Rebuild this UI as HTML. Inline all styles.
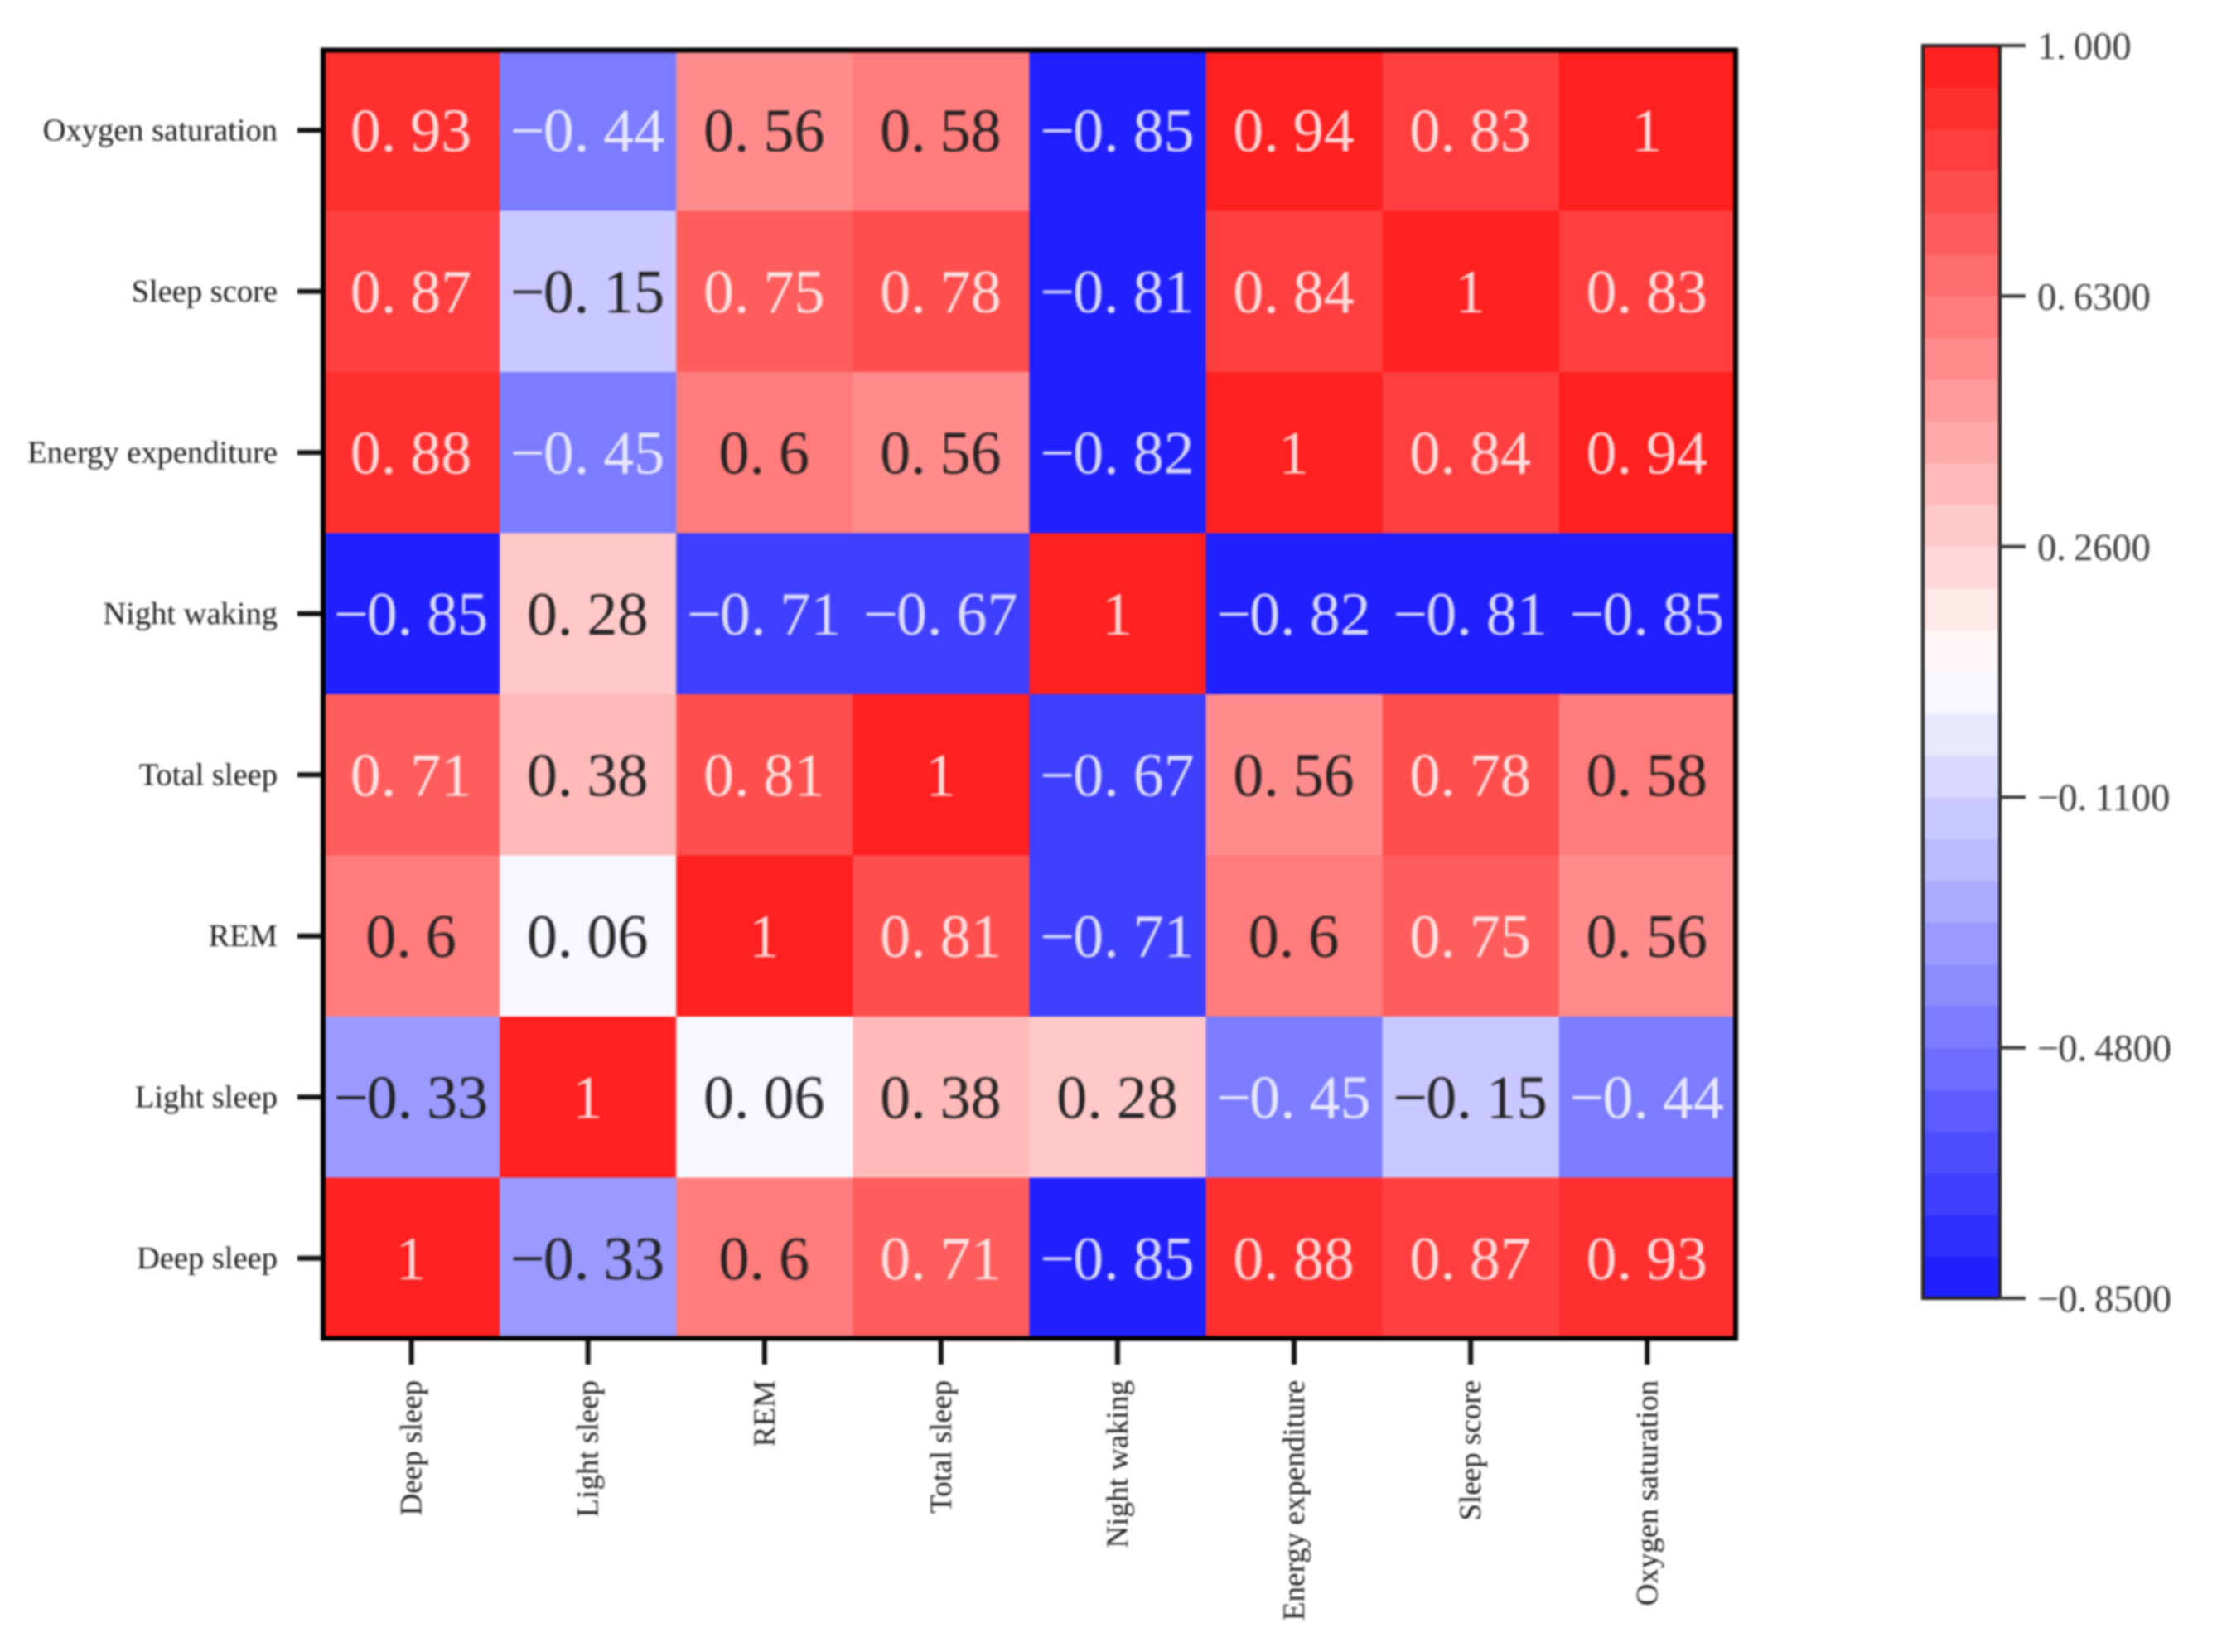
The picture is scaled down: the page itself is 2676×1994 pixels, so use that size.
<!DOCTYPE html>
<html lang="en">
<head>
<meta charset="utf-8">
<title>Sleep correlation heatmap</title>
<style>
html,body{margin:0;padding:0;background:#fff;width:2676px;height:1994px;overflow:hidden}
svg{display:block;filter:blur(1.2px)}
text{font-family:"Liberation Serif","Noto Serif CJK SC",serif}
</style>
</head>
<body>
<svg id="chart" xmlns="http://www.w3.org/2000/svg" width="2676" height="1994" viewBox="0 0 2676 1994">
<rect width="2676" height="1994" fill="#fff"/>
<g id="cells"></g>
<g id="annots"></g>
<rect x="390" y="60.5" width="1705" height="1555" fill="none" stroke="#000" stroke-width="6"/>
<g id="xaxis"></g>
<g id="yaxis"></g>
<g id="cbar"></g>
</svg>
<script>
const xCategories = ["Deep sleep","Light sleep","REM","Total sleep","Night waking","Energy expenditure","Sleep score","Oxygen saturation"];
const yCategories = ["Oxygen saturation","Sleep score","Energy expenditure","Night waking","Total sleep","REM","Light sleep","Deep sleep"];
const rowOxygen = [0.93,-0.44,0.56,0.58,-0.85,0.94,0.83,1];
const rowSleepScore = [0.87,-0.15,0.75,0.78,-0.81,0.84,1,0.83];
const rowEnergy = [0.88,-0.45,0.6,0.56,-0.82,1,0.84,0.94];
const rowNightWaking = [-0.85,0.28,-0.71,-0.67,1,-0.82,-0.81,-0.85];
const rowTotalSleep = [0.71,0.38,0.81,1,-0.67,0.56,0.78,0.58];
const rowREM = [0.6,0.06,1,0.81,-0.71,0.6,0.75,0.56];
const rowLightSleep = [-0.33,1,0.06,0.38,0.28,-0.45,-0.15,-0.44];
const rowDeepSleep = [1,-0.33,0.6,0.71,-0.85,0.88,0.87,0.93];
const matrix = [rowOxygen,rowSleepScore,rowEnergy,rowNightWaking,rowTotalSleep,rowREM,rowLightSleep,rowDeepSleep];
const colorbarTicks = [1,0.63,0.26,-0.11,-0.48,-0.85];
const colorbarTickLabels = ["1.000","0.6300","0.2600","-0.1100","-0.4800","-0.8500"];
const vMin = -0.85;
const vMax = 1;
const colorLevels = 30;

const NS = "http://www.w3.org/2000/svg";
const plot = {left:390, top:60, cellW:213.1, cellH:194.5};
const bar = {left:2320, right:2413, top:55, bottom:1567};

function xScale(i){ return plot.left + i*plot.cellW; }
function yScale(i){ return plot.top + i*plot.cellH; }
function barY(v){ return bar.bottom - (v-vMin)/(vMax-vMin)*(bar.bottom-bar.top); }
function bandIndex(v){ return Math.min(colorLevels-1, Math.max(0, Math.floor((v-vMin)/(vMax-vMin)*colorLevels))); }
function bandRGB(i){
  const t = i/(colorLevels-1);
  const r = t<0.5 ? 2*t : 1;
  const g = t<0.5 ? 2*t : 2*(1-t);
  const b = t<0.5 ? 1 : 2*(1-t);
  const a = 0.875;
  return [r,g,b].map(c => Math.round((c*a+1-a)*255));
}
function luminance(rgb){
  const l = rgb.map(c => { c/=255; return c<=0.03928 ? c/12.92 : Math.pow((c+0.055)/1.055,2.4); });
  return 0.2126*l[0]+0.7152*l[1]+0.0722*l[2];
}
function css(rgb){ return "rgb("+rgb.join(",")+")"; }
function make(tag, parent, attrs){
  const el = document.createElementNS(NS, tag);
  for (const k in attrs) el.setAttribute(k, attrs[k]);
  parent.appendChild(el);
  return el;
}
function glyphText(raw){ return raw.replace("-", "\u2212"); }
function spacing(str, afterDot, minusGap){
  const out = [];
  for (let i=0;i<str.length;i++){
    let d = 0;
    if (i>0 && str[i-1]===".") d = afterDot;
    if (i>0 && str[i-1]==="\u2212") d = minusGap;
    out.push(d);
  }
  return out.join(" ");
}

const cellsG = document.getElementById("cells");
const annotsG = document.getElementById("annots");
matrix.forEach((row, r) => {
  row.forEach((v, c) => {
    const rgb = bandRGB(bandIndex(v));
    const rect = make("rect", cellsG, {x:xScale(c), y:yScale(r), width:plot.cellW+0.5, height:plot.cellH+0.5, fill:css(rgb)});
    
    
    const label = glyphText(String(v));
    const dark = luminance(rgb)>0.34;
    const txt = make("text", annotsG, {x:xScale(c)+plot.cellW/2-0.5, y:yScale(r)+plot.cellH/2+25, "text-anchor":"middle", "font-size":74, fill:dark ? "#1c1c1c" : "#fff", "fill-opacity":dark ? 0.95 : 0.82, dx:spacing(label,17,-2)});
    txt.textContent = label;
    
    
  });
});

const xG = document.getElementById("xaxis");
xCategories.forEach((name, i) => {
  const cx = xScale(i)+plot.cellW/2;
  const tick = make("line", xG, {x1:cx, x2:cx, y1:1618, y2:1647, stroke:"#111", "stroke-width":6});
  
  
  const t = make("text", xG, {transform:"translate("+(cx+12)+",1666) rotate(-90)", "text-anchor":"end", "font-size":37, fill:"#1c1c1c"});
  t.textContent = name;
  
  
});

const yG = document.getElementById("yaxis");
yCategories.forEach((name, i) => {
  const cy = yScale(i)+plot.cellH/2;
  const tick = make("line", yG, {x1:359, x2:388, y1:cy, y2:cy, stroke:"#111", "stroke-width":6});
  
  
  const t = make("text", yG, {x:335, y:cy+12, "text-anchor":"end", "font-size":38.5, fill:"#1c1c1c"});
  t.textContent = name;
  
  
});

const cbarG = document.getElementById("cbar");
for (let i=0;i<colorLevels;i++){
  const h = (bar.bottom-bar.top)/colorLevels;
  const band = make("rect", cbarG, {x:bar.left, y:bar.bottom-(i+1)*h, width:bar.right-bar.left, height:h+0.5, fill:css(bandRGB(i))});
  
  
}
const barFrame = make("rect", cbarG, {x:bar.left+1, y:bar.top, width:bar.right-bar.left, height:bar.bottom-bar.top, fill:"none", stroke:"#222", "stroke-width":4});


colorbarTicks.forEach((v, i) => {
  const y = barY(v);
  const tick = make("line", cbarG, {x1:bar.right, x2:2445, y1:y, y2:y, stroke:"#333", "stroke-width":4});
  
  
  const label = glyphText(colorbarTickLabels[i]);
  const t = make("text", cbarG, {x:2459, y:y+16, "font-size":46.5, fill:"#3a3a3a", dx:spacing(label,9,-1)});
  t.textContent = label;
  
  
});
</script>
</body>
</html>
